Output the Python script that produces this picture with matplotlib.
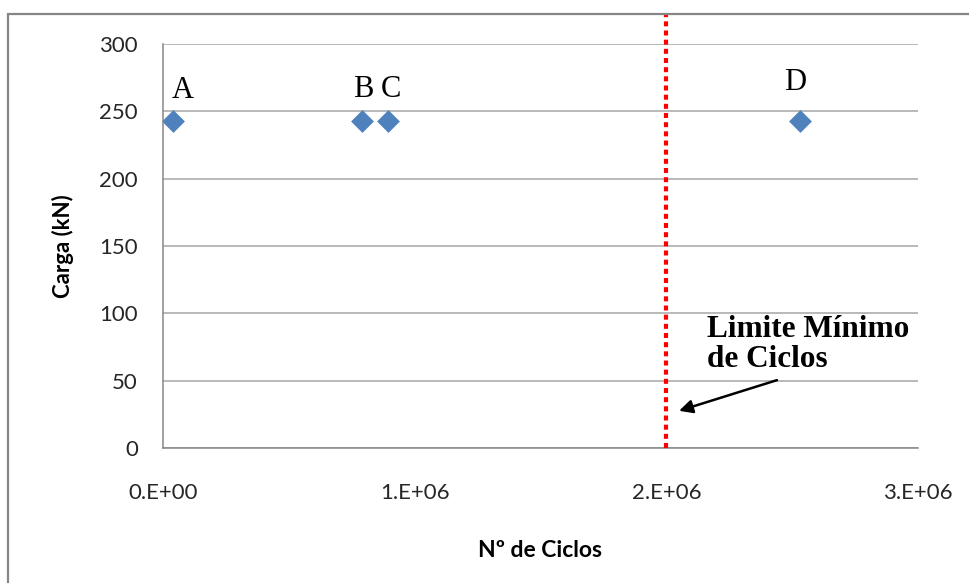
import matplotlib
matplotlib.use("Agg")
import matplotlib.pyplot as plt
from matplotlib.patches import Rectangle
from matplotlib.ticker import FuncFormatter

# data
labels = ["A", "B", "C", "D"]
ciclos = [4.0e4, 7.9e5, 8.95e5, 2.53e6]
carga = [243, 243, 243, 243]
limite_ciclos = 2.0e6
x_ticks = [0, 1e6, 2e6, 3e6]
y_ticks = [0, 50, 100, 150, 200, 250, 300]

BLUE = "#4F81BD"
GRID = "#A6A6A6"
AXIS = "#868686"
SANS = "Lato"
SERIF = "Liberation Serif"

fig = plt.figure(figsize=(9.69, 5.83), dpi=100)
fig.patch.set_facecolor("white")
ax = fig.add_axes([163 / 969, 1 - 448 / 583, (918 - 163) / 969, (448 - 44) / 583])

# outer chart frame (only top and left visible)
frame_top = 1 - 14 / 583
fig.patches.append(Rectangle((8 / 969, -0.2), 1.2, frame_top + 0.2,
                             transform=fig.transFigure, fill=False,
                             edgecolor=AXIS, linewidth=1.6, zorder=0))

ax.set_xlim(0, 3e6)
ax.set_ylim(0, 300)
ax.set_xticks(x_ticks)
ax.set_yticks(y_ticks)
ax.xaxis.set_major_formatter(FuncFormatter(lambda v, p: "%d.E+%02d" % (round(v / 1e6), 0 if v == 0 else 6)))
ax.tick_params(length=0, labelsize=16, colors="#262626")
ax.tick_params(axis="y", pad=18)
ax.tick_params(axis="x", pad=25)
for lab in ax.get_xticklabels() + ax.get_yticklabels():
    lab.set_family(SANS)

ax.grid(axis="y", color=GRID, linewidth=1.1)
ax.set_axisbelow(True)
for s in ["top", "right"]:
    ax.spines[s].set_visible(False)
ax.spines["left"].set_color(AXIS)
ax.spines["bottom"].set_color(AXIS)
ax.spines["left"].set_linewidth(1.1)
ax.spines["bottom"].set_linewidth(1.1)

ax.set_xlabel("Nº de Ciclos", fontsize=16.5, fontweight="bold", family=SANS, labelpad=27)
ax.set_ylabel("Carga (kN)", fontsize=16, fontweight="bold", family=SANS, labelpad=18)

# minimum cycles limit line
ax.plot([limite_ciclos, limite_ciclos], [0, 322], color="#FF0000", linewidth=3.0,
        linestyle=(0, (1.2, 1.0)), dash_capstyle="butt", clip_on=False, zorder=3)

ax.scatter(ciclos, carga, marker="D", s=135, color=BLUE, zorder=4, linewidths=0)

label_offsets = [(7, 11), (1, 12), (2, 12), (-3, 17)]
for lab, x, y, off in zip(labels, ciclos, carga, label_offsets):
    ax.annotate(lab, (x, y), xytext=off, textcoords="offset points",
                ha="center", va="bottom", fontsize=22, family=SERIF)

ax.annotate("", xy=(2.04e6, 27), xytext=(2.45e6, 51),
            arrowprops=dict(arrowstyle="-|>", color="black", lw=1.8, mutation_scale=20))
ax.text(2.16e6, 77, "Limite Mínimo\nde Ciclos", ha="left", va="center",
        fontsize=22.5, fontweight="bold", family=SERIF, linespacing=1.05)

fig.savefig("out.png", dpi=100)
